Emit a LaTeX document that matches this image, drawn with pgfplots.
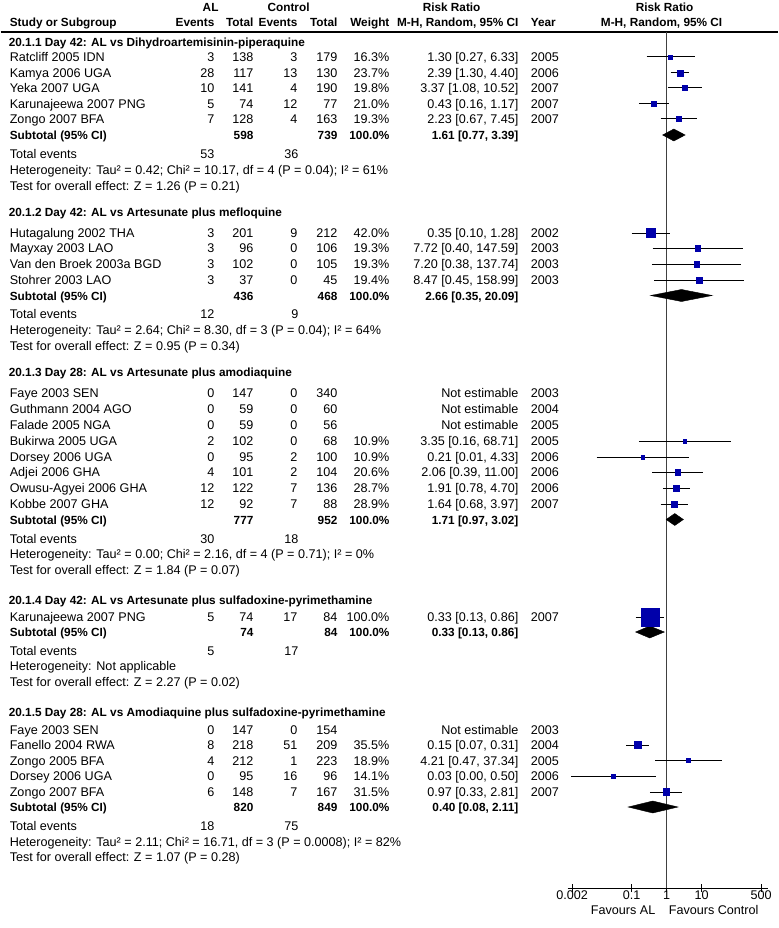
\documentclass[border=0pt]{standalone}
\usepackage{fontspec}
\setmainfont{Liberation Sans}
\usepackage{pgfplots}
\usepackage{pgfplotstable}
\pgfplotsset{compat=1.18}
\definecolor{sq}{RGB}{0,0,170}
\newcommand\rf{\fontsize{12.6}{15}\selectfont}
\newcommand\bfn{\fontsize{11.8}{14}\selectfont\bfseries}
\tikzset{
 L/.style={anchor=base west,inner sep=0pt,font=\rf},
 Rr/.style={anchor=base east,inner sep=0pt,font=\rf},
 C/.style={anchor=base,inner sep=0pt,font=\rf},
 BL/.style={anchor=base west,inner sep=0pt,font=\bfn},
 BR/.style={anchor=base east,inner sep=0pt,font=\bfn},
 BC/.style={anchor=base,inner sep=0pt,font=\bfn}}
\newcommand\Row[9]{%
 \node[L] at (9,#1) {#2};
 \node[Rr] at (214,#1) {#3};
 \node[Rr] at (253,#1) {#4};
 \node[Rr] at (297,#1) {#5};
 \node[Rr] at (337,#1) {#6};
 \node[Rr] at (389,#1) {#7};
 \node[Rr] at (518,#1) {#8};
 \node[L] at (530,#1) {#9};}
\newcommand\Sub[4]{%
 \node[BL] at (9,#1) {Subtotal (95\% CI)};
 \node[BR] at (253,#1) {#2};
 \node[BR] at (337,#1) {#3};
 \node[BR] at (389,#1) {100.0\%};
 \node[BR] at (518,#1) {#4};}
\newcommand\Tot[3]{%
 \node[L] at (9,#1) {Total events};
 \node[Rr] at (214,#1) {#2};
 \node[Rr] at (298,#1) {#3};}
\newcommand\Txt[2]{\node[L] at (9,#1) {#2};}
\newcommand\Grp[2]{\node[BL] at (8,#1) {#2};}

\pgfplotstableread{
rr y s
1.30 57 2.0
2.39 73 3.0
3.37 88 2.6
0.43 104 2.6
2.23 119 2.6
0.35 233 4.5
7.72 248 2.8
7.20 264 2.8
8.47 280 2.8
3.35 441 1.7
0.21 457 1.7
2.06 472 2.8
1.91 488 3.0
1.64 504 3.2
0.33 617 9.0
0.15 745 3.5
4.21 760 2.2
0.03 776 1.7
0.97 792 3.4
}\squares

\pgfplotstableread{
x y
0.27 57
6.33 57
nan nan
1.30 73
4.40 73
nan nan
1.08 88
10.52 88
nan nan
0.16 104
1.17 104
nan nan
0.67 119
7.45 119
nan nan
0.10 233
1.28 233
nan nan
0.40 248
147.59 248
nan nan
0.38 264
137.74 264
nan nan
0.45 280
158.99 280
nan nan
0.16 441
68.71 441
nan nan
0.01 457
4.33 457
nan nan
0.39 472
11.00 472
nan nan
0.78 488
4.70 488
nan nan
0.68 504
3.97 504
nan nan
0.13 617
0.86 617
nan nan
0.07 745
0.31 745
nan nan
0.47 760
37.34 760
nan nan
0.0019 776
0.50 776
nan nan
0.33 792
2.81 792
}\cis

\begin{document}
\begin{tikzpicture}
\begin{axis}[at={(0pt,0pt)}, anchor=south west, scale only axis,
  width=777pt, height=928pt, xmin=0, xmax=777, ymin=0, ymax=928,
  y dir=reverse, hide axis, clip=false]
\fill[white] (0,0) rectangle (777,928);
% header
\node[BC] at (210,11.5) {AL};
\node[BC] at (288,11.5) {Control};
\node[BC] at (451,11.5) {Risk Ratio};
\node[BC] at (664,11.5) {Risk Ratio};
\node[BL] at (9,27) {Study or Subgroup};
\node[BR] at (214,27) {Events};
\node[BR] at (253,27) {Total};
\node[BR] at (297,27) {Events};
\node[BR] at (337,27) {Total};
\node[BR] at (389,27) {Weight};
\node[BR] at (518,27) {M-H, Random, 95\% CI};
\node[BL] at (530,27) {Year};
\node[BC] at (661,27) {M-H, Random, 95\% CI};
\draw[line width=1.2pt] (0,32) -- (777,32);
% group 1
\Grp{46.5}{20.1.1 Day 42: AL vs Dihydroartemisinin-piperaquine}
\Row{61.5}{Ratcliff 2005 IDN}{3}{138}{3}{179}{16.3\%}{1.30 [0.27, 6.33]}{2005}
\Row{77.5}{Kamya 2006 UGA}{28}{117}{13}{130}{23.7\%}{2.39 [1.30, 4.40]}{2006}
\Row{92.5}{Yeka 2007 UGA}{10}{141}{4}{190}{19.8\%}{3.37 [1.08, 10.52]}{2007}
\Row{108.5}{Karunajeewa 2007 PNG}{5}{74}{12}{77}{21.0\%}{0.43 [0.16, 1.17]}{2007}
\Row{123.5}{Zongo 2007 BFA}{7}{128}{4}{163}{19.3\%}{2.23 [0.67, 7.45]}{2007}
\Sub{139.5}{598}{739}{1.61 [0.77, 3.39]}
\Tot{158.5}{53}{36}
\Txt{174.5}{Heterogeneity: Tau² = 0.42; Chi² = 10.17, df = 4 (P = 0.04); I² = 61\%}
\Txt{190}{Test for overall effect: Z = 1.26 (P = 0.21)}
% group 2
\Grp{216.5}{20.1.2 Day 42: AL vs Artesunate plus mefloquine}
\Row{237.5}{Hutagalung 2002 THA}{3}{201}{9}{212}{42.0\%}{0.35 [0.10, 1.28]}{2002}
\Row{252.5}{Mayxay 2003 LAO}{3}{96}{0}{106}{19.3\%}{7.72 [0.40, 147.59]}{2003}
\Row{268.5}{Van den Broek 2003a BGD}{3}{102}{0}{105}{19.3\%}{7.20 [0.38, 137.74]}{2003}
\Row{284.5}{Stohrer 2003 LAO}{3}{37}{0}{45}{19.4\%}{8.47 [0.45, 158.99]}{2003}
\Sub{300}{436}{468}{2.66 [0.35, 20.09]}
\Tot{318.5}{12}{9}
\Txt{334.5}{Heterogeneity: Tau² = 2.64; Chi² = 8.30, df = 3 (P = 0.04); I² = 64\%}
\Txt{350.5}{Test for overall effect: Z = 0.95 (P = 0.34)}
% group 3
\Grp{376.5}{20.1.3 Day 28: AL vs Artesunate plus amodiaquine}
\Row{397.5}{Faye 2003 SEN}{0}{147}{0}{340}{}{Not estimable}{2003}
\Row{413.5}{Guthmann 2004 AGO}{0}{59}{0}{60}{}{Not estimable}{2004}
\Row{429.5}{Falade 2005 NGA}{0}{59}{0}{56}{}{Not estimable}{2005}
\Row{445.5}{Bukirwa 2005 UGA}{2}{102}{0}{68}{10.9\%}{3.35 [0.16, 68.71]}{2005}
\Row{461.5}{Dorsey 2006 UGA}{0}{95}{2}{100}{10.9\%}{0.21 [0.01, 4.33]}{2006}
\Row{476.5}{Adjei 2006 GHA}{4}{101}{2}{104}{20.6\%}{2.06 [0.39, 11.00]}{2006}
\Row{492.5}{Owusu-Agyei 2006 GHA}{12}{122}{7}{136}{28.7\%}{1.91 [0.78, 4.70]}{2006}
\Row{508.5}{Kobbe 2007 GHA}{12}{92}{7}{88}{28.9\%}{1.64 [0.68, 3.97]}{2007}
\Sub{524}{777}{952}{1.71 [0.97, 3.02]}
\Tot{543.5}{30}{18}
\Txt{558.5}{Heterogeneity: Tau² = 0.00; Chi² = 2.16, df = 4 (P = 0.71); I² = 0\%}
\Txt{574.5}{Test for overall effect: Z = 1.84 (P = 0.07)}
% group 4
\Grp{604.5}{20.1.4 Day 42: AL vs Artesunate plus sulfadoxine-pyrimethamine}
\Row{621.5}{Karunajeewa 2007 PNG}{5}{74}{17}{84}{100.0\%}{0.33 [0.13, 0.86]}{2007}
\Sub{636.5}{74}{84}{0.33 [0.13, 0.86]}
\Tot{655.5}{5}{17}
\Txt{670.5}{Heterogeneity: Not applicable}
\Txt{686.5}{Test for overall effect: Z = 2.27 (P = 0.02)}
% group 5
\Grp{716.5}{20.1.5 Day 28: AL vs Amodiaquine plus sulfadoxine-pyrimethamine}
\Row{734.5}{Faye 2003 SEN}{0}{147}{0}{154}{}{Not estimable}{2003}
\Row{749.5}{Fanello 2004 RWA}{8}{218}{51}{209}{35.5\%}{0.15 [0.07, 0.31]}{2004}
\Row{765.5}{Zongo 2005 BFA}{4}{212}{1}{223}{18.9\%}{4.21 [0.47, 37.34]}{2005}
\Row{780.5}{Dorsey 2006 UGA}{0}{95}{16}{96}{14.1\%}{0.03 [0.00, 0.50]}{2006}
\Row{796.5}{Zongo 2007 BFA}{6}{148}{7}{167}{31.5\%}{0.97 [0.33, 2.81]}{2007}
\Sub{811.5}{820}{849}{0.40 [0.08, 2.11]}
\Tot{830.5}{18}{75}
\Txt{846.5}{Heterogeneity: Tau² = 2.11; Chi² = 16.71, df = 3 (P = 0.0008); I² = 82\%}
\Txt{861.5}{Test for overall effect: Z = 1.07 (P = 0.28)}
% favours
\node[Rr] at (655,914) {Favours AL};
\node[L] at (668,914) {Favours Control};
\end{axis}

\begin{axis}[at={(567pt,40pt)}, anchor=south west, scale only axis,
  width=200pt, height=888pt, xmode=log, xmin=0.001484, xmax=768.7,
  ymin=0, ymax=888, y dir=reverse, hide y axis, axis x line=bottom,
  axis line style={-, black, line width=1pt},
  xtick={0.002,0.1,1,10,500}, xticklabels={},
  minor xtick={}, tick align=center, major tick length=8pt,
  tick style={black, line width=1pt},
  clip=false]
\addplot[black!75, line width=1pt] coordinates {(1,32) (1,888)};
\addplot[black, line width=1pt, unbounded coords=jump] table[x=x,y=y] {\cis};
\addplot[scatter, only marks, mark=square*, point meta=y,
  scatter/use mapped color={draw=sq,fill=sq},
  visualization depends on={\thisrow{s}\as\ms},
  scatter/@pre marker code/.append style={/tikz/mark size=\ms}]
  table[x=rr,y=y] {\squares};
\addplot[fill=black, draw=black] coordinates {(0.77,135) (1.61,129) (3.39,135) (1.61,141)} -- cycle;
\addplot[fill=black, draw=black] coordinates {(0.35,295.5) (2.66,289.5) (20.09,295.5) (2.66,301.5)} -- cycle;
\addplot[fill=black, draw=black] coordinates {(0.97,519.5) (1.71,513.5) (3.02,519.5) (1.71,525.5)} -- cycle;
\addplot[fill=black, draw=black] coordinates {(0.13,632) (0.33,626) (0.86,632) (0.33,638)} -- cycle;
\addplot[fill=black, draw=black] coordinates {(0.08,807) (0.40,801) (2.11,807) (0.40,813)} -- cycle;
% tick labels
\node[C] at (0.002,899.5) {0.002};
\node[C] at (0.1,899.5) {0.1};
\node[C] at (1,899.5) {1};
\node[C] at (10,899.5) {10};
\node[C] at (500,899.5) {500};
\end{axis}
\end{tikzpicture}
\end{document}
